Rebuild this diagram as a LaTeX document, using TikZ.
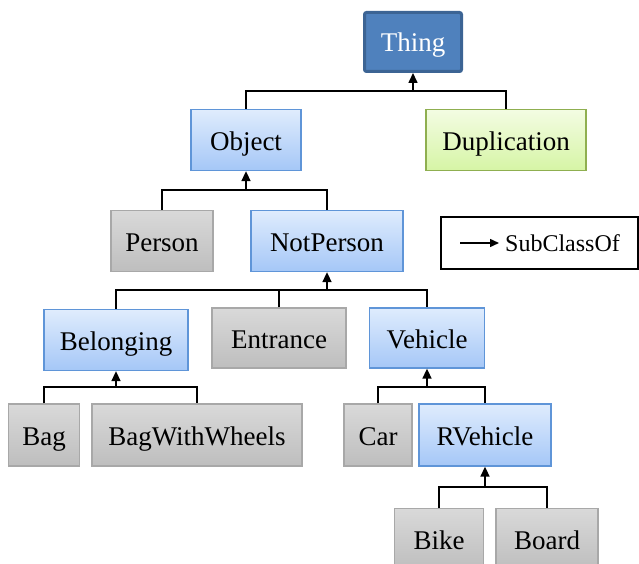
\documentclass[tikz,border=0pt]{standalone}
\usepackage{fontspec}
\setmainfont{Liberation Serif}
\usetikzlibrary{arrows.meta}
\usetikzlibrary{positioning, calc}
\definecolor{thingFill}{HTML}{4F81BD}
\definecolor{thingLine}{HTML}{3C6494}
\definecolor{blueTop}{HTML}{DFECFD}
\definecolor{blueBot}{HTML}{A5C7F7}
\definecolor{blueLine}{HTML}{5F95D8}
\definecolor{grayTop}{HTML}{D9D9D9}
\definecolor{grayBot}{HTML}{BEBEBE}
\definecolor{grayLine}{HTML}{A8A8A8}
\definecolor{greenTop}{HTML}{F3FCE3}
\definecolor{greenBot}{HTML}{D6F5A5}
\definecolor{greenLine}{HTML}{8FAF50}
\tikzset{
  cls/.style={inner sep=0pt, minimum height=61pt, text height=22pt, text depth=2pt,
              font=\fontsize{27}{31}\selectfont},
  blueCls/.style={cls, draw=blueLine, line width=1.3pt, top color=blueTop, bottom color=blueBot},
  grayCls/.style={cls, draw=grayLine, line width=1.3pt, top color=grayTop, bottom color=grayBot},
  greenCls/.style={cls, draw=greenLine, line width=1.5pt, top color=greenTop, bottom color=greenBot},
  sub/.style={line width=1.6pt, black},
  subArrow/.style={sub, -{Triangle[width=9pt,length=10pt]}}
}
\begin{document}
\begin{tikzpicture}[x=1pt,y=-1pt]
        \useasboundingbox (0,0) rectangle (639,564);
        % classes
        \node[cls, fill=thingFill, draw=thingLine, line width=3pt, rounded corners=2pt,
              minimum width=97pt, minimum height=59pt, text=white] (thing) at (413,42) {Thing};
        \node[blueCls, minimum width=110pt] (object) at (246,140) {Object};
        \node[greenCls, minimum width=160pt] (dup) at (506,140) {Duplication};
        \node[grayCls, minimum width=102pt] (person) at (162,241) {Person};
        \node[blueCls, minimum width=152pt] (notperson) at (327,241) {NotPerson};
        \node[blueCls, minimum width=144pt] (belonging) at (116,340) {Belonging};
        \node[grayCls, minimum width=134pt, minimum height=60pt] (entrance) at (279,338) {Entrance};
        \node[blueCls, minimum width=115pt, minimum height=60pt] (vehicle) at (427,338) {Vehicle};
        \node[grayCls, minimum width=71pt, minimum height=62pt] (bag) at (44,435) {Bag};
        \node[grayCls, minimum width=210pt, minimum height=62pt] (bagww) at (197,435) {BagWithWheels};
        \node[grayCls, minimum width=68pt, minimum height=62pt] (car) at (378,435) {Car};
        \node[blueCls, minimum width=132pt, minimum height=62pt] (rvehicle) at (485,435) {RVehicle};
        \node[grayCls, minimum width=89pt] (bike) at (439,539) {Bike};
        \node[grayCls, minimum width=102pt] (board) at (547,539) {Board};
        % junctions
        \coordinate (jThing) at (413,91);
        \coordinate (jObject) at (246,190);
        \coordinate (jNotPerson) at (327,290);
        \coordinate (jBelonging) at (116,387);
        \coordinate (jVehicle) at (427,387);
        \coordinate (jRVehicle) at (485,487);
        % subclass links
        \draw[sub] (object.north) |- (jThing) -| (dup.north);
        \draw[subArrow] (jThing) -- (thing.south);
        \draw[sub] (person.north) |- (jObject) -| (notperson.north);
        \draw[subArrow] (jObject) -- (object.south);
        \draw[sub] (belonging.north) |- (jNotPerson) -| (vehicle.north);
        \draw[sub] (entrance.north) |- (jNotPerson);
        \draw[subArrow] (jNotPerson) -- (notperson.south);
        \draw[sub] (bag.north) |- (jBelonging) -| (bagww.north);
        \draw[subArrow] (jBelonging) -- (belonging.south);
        \draw[sub] (car.north) |- (jVehicle) -| (rvehicle.north);
        \draw[subArrow] (jVehicle) -- (vehicle.south);
        \draw[sub] (bike.north) |- (jRVehicle) -| (board.north);
        \draw[subArrow] (jRVehicle) -- (rvehicle.south);
        % legend
        \node[draw, line width=1.3pt, inner sep=0pt, minimum width=197pt, minimum height=52pt] (legend) at (539.5,243) {};
        \coordinate (legA) at (460,243);
        \coordinate (legB) at (499,243);
        \node[anchor=base west, inner sep=0pt, font=\fontsize{24}{28}\selectfont] (legText) at (505,251) {SubClassOf};
        \draw[sub, line width=1.5pt, -{Triangle[width=8pt,length=9pt]}] (legA) -- (legB);
      \end{tikzpicture}
\end{document}
